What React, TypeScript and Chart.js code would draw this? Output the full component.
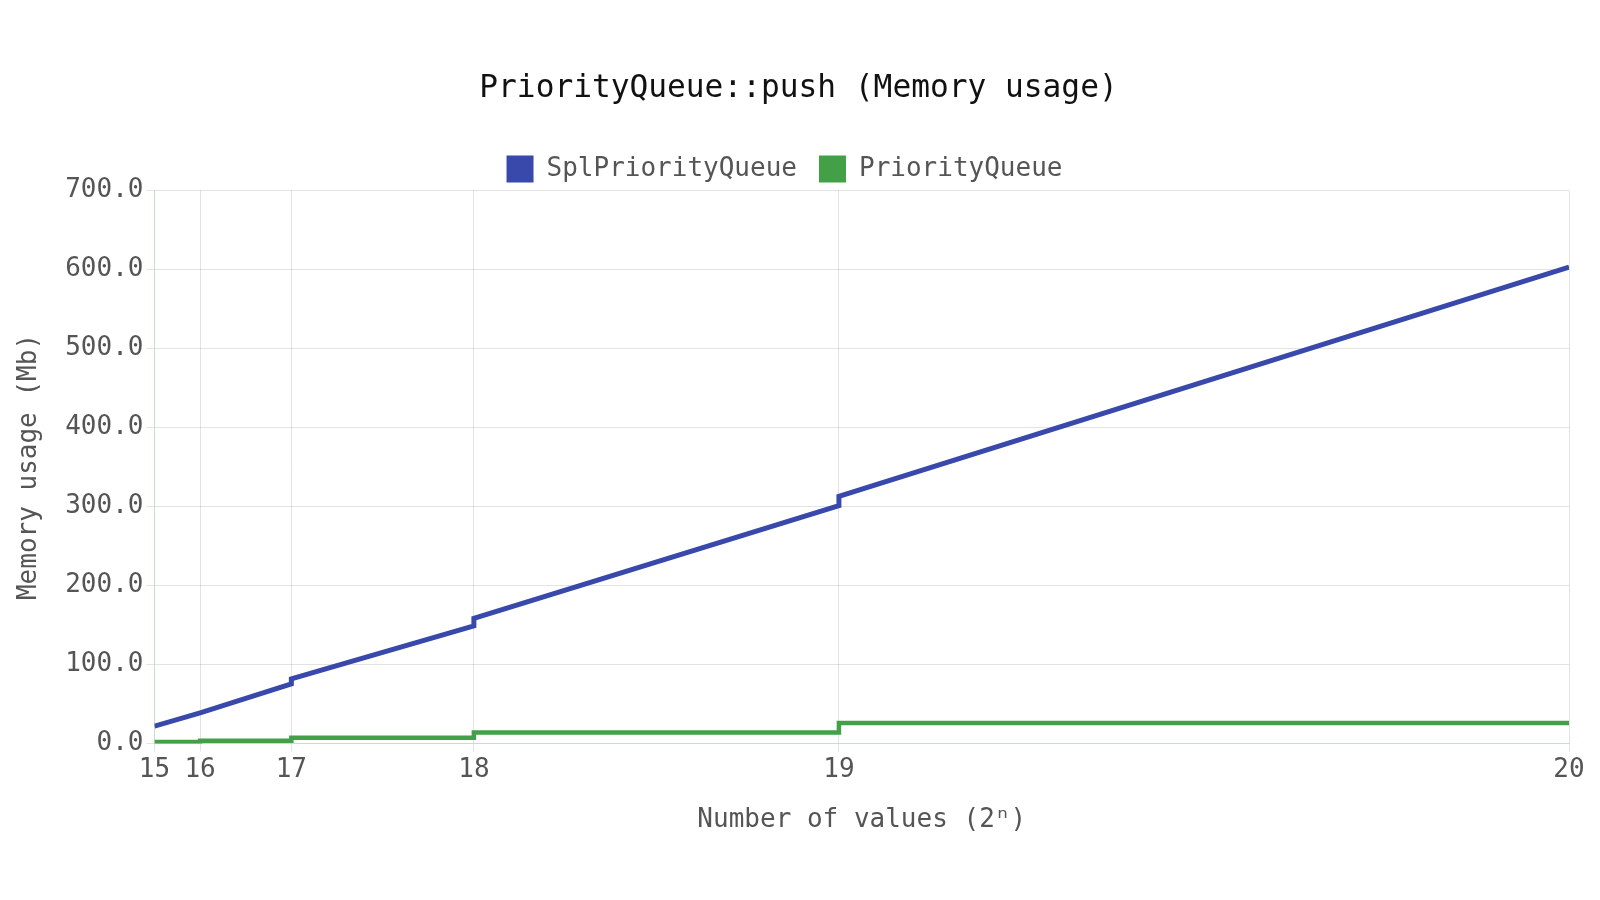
import { useEffect, useRef } from "react";
import { Chart, registerables } from "chart.js";

Chart.register(...registerables);

// number of values pushed (2^15 .. 2^20); repeated x = step in memory at each power of two
const splX = [32768, 65536, 131072, 131072, 262144, 262144, 524288, 524288, 1048576];
const splY = [22, 39, 75.5, 82, 149, 158.5, 301, 313, 603];

const pqX = [32768, 65536, 65536, 131072, 131072, 262144, 262144, 524288, 524288, 1048576];
const pqY = [2, 2, 3.5, 3.5, 7.5, 7.5, 14, 14, 26, 26];

const xTickValues = [32768, 65536, 131072, 262144, 524288, 1048576];
const xTickLabels = ["15", "16", "17", "18", "19", "20"];

const FONT = "'DejaVu Sans Mono', 'Liberation Mono', monospace";
const TEXT = "#555555";

const toPoints = (xs: number[], ys: number[]) => xs.map((x, i) => ({ x, y: ys[i] }));

// legend items need a wide gap between them but less space below;
// title and legend are nudged so they centre like the original
const headerTweak = {
  id: "headerTweak",
  afterInit(chart: any) {
    const legend = chart.legend;
    if (!legend) return;
    const fit = legend.fit;
    legend.fit = function () {
      fit.call(this);
      this.height -= 2;
    };
  },
  afterLayout(chart: any) {
    const legend = chart.legend;
    if (legend) {
      legend.left -= 5;
      legend.right -= 5;
    }
    const title = chart.titleBlock;
    if (title) {
      title.left += 9;
      title.right += 9;
    }
  },
};

export default function App() {
  const canvasRef = useRef<HTMLCanvasElement | null>(null);

  useEffect(() => {
    if (!canvasRef.current) return;
    const chart = new Chart(canvasRef.current, {
      type: "line",
      data: {
        datasets: [
          {
            label: "SplPriorityQueue",
            data: toPoints(splX, splY),
            borderColor: "#3949ab",
            backgroundColor: "#3949ab",
            borderWidth: 5,
            pointRadius: 0,
            tension: 0,
          },
          {
            label: "PriorityQueue",
            data: toPoints(pqX, pqY),
            borderColor: "#43a047",
            backgroundColor: "#43a047",
            borderWidth: 4.5,
            pointRadius: 0,
            tension: 0,
          },
        ],
      },
      options: {
        animation: false,
        responsive: true,
        maintainAspectRatio: false,
        layout: { padding: { top: 0, left: 10, right: 31, bottom: 60 } },
        plugins: {
          title: {
            display: true,
            text: "PriorityQueue::push (Memory usage)",
            color: "#111111",
            font: { family: FONT, size: 31.2, weight: "normal" },
            padding: { top: 70, bottom: 26 },
          },
          legend: {
            position: "top",
            labels: {
              color: TEXT,
              font: { family: FONT, size: 26 },
              boxWidth: 27,
              boxHeight: 27,
              padding: 22,
              generateLabels: (c) =>
                Chart.defaults.plugins.legend.labels
                  .generateLabels(c)
                  .map((l) => ({ ...l, lineWidth: 0 })),
            },
          },
          tooltip: { enabled: false },
        },
        scales: {
          x: {
            type: "linear",
            min: 32768,
            max: 1048576,
            afterBuildTicks: (axis) => {
              axis.ticks = xTickValues.map((v) => ({ value: v }));
            },
            ticks: {
              color: TEXT,
              font: { family: FONT, size: 26 },
              maxRotation: 0,
              autoSkip: false,
              callback: (v) => xTickLabels[xTickValues.indexOf(Number(v))] ?? "",
            },
            grid: { color: "rgba(0,0,0,0.11)" },
            border: { color: "#c5e1c5" },
            title: {
              display: true,
              text: "Number of values (2ⁿ)",
              color: TEXT,
              font: { family: FONT, size: 26 },
              padding: { top: 16, bottom: 4 },
            },
          },
          y: {
            min: 0,
            max: 700,
            ticks: {
              stepSize: 100,
              color: TEXT,
              font: { family: FONT, size: 26 },
              callback: (v) => Number(v).toFixed(1),
            },
            grid: { color: "rgba(0,0,0,0.11)" },
            border: { color: "#c5e1c5" },
            title: {
              display: true,
              text: "Memory usage (Mb)",
              color: TEXT,
              font: { family: FONT, size: 26 },
              padding: { top: 4, bottom: 17 },
            },
          },
        },
      },
      plugins: [headerTweak],
    });
    return () => chart.destroy();
  }, []);

  return (
    <div style={{ position: "fixed", left: 0, top: 0, width: 1600, height: 900, background: "#fff" }}>
      <canvas ref={canvasRef} />
    </div>
  );
}
